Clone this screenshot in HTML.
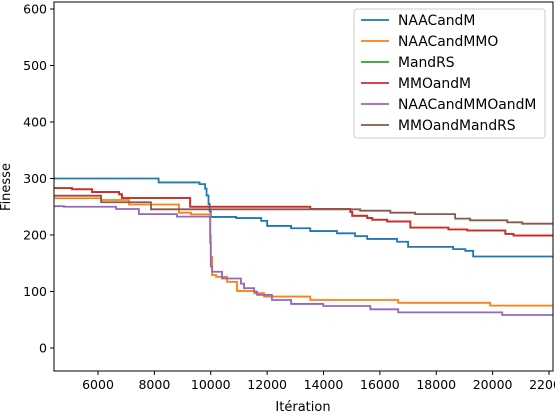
<!DOCTYPE html>
<html><head><meta charset="utf-8"><style>
body{margin:0;background:#fff;}
svg text{font-family:"DejaVu Sans","Liberation Sans",sans-serif;fill:#000;}
</style></head><body>
<svg id="chart" width="555" height="412" xmlns="http://www.w3.org/2000/svg">
<g id="grid"></g>
<g id="series"></g>
<rect x="54" y="2" width="499" height="369" fill="none" stroke="#000" stroke-width="1"/>
<g id="axes"></g>
<text x="303" y="411" font-size="13" text-anchor="middle">Itération</text>
<text transform="translate(10,187) rotate(-90)" font-size="13" text-anchor="middle">Finesse</text>
<g id="legend"></g>
</svg>
<script>
const xTicks=[6000,8000,10000,12000,14000,16000,18000,20000,22000];
const yTicks=[0,100,200,300,400,500,600];
const seriesNames=["NAACandM","NAACandMMO","MandRS","MMOandM","NAACandMMOandM","MMOandMandRS"];
const seriesColors=["#1f77b4","#ff7f0e","#2ca02c","#d62728","#9467bd","#8c564b"];
// step starts (iteration) and values
const blueX=[4438,8150,9600,9800,9850,9920,9960,10000,10900,11790,12000,12850,13530,14480,15120,15550,16610,17000,18600,19030,19310];
const blueY=[300,293,290,282,270,255,242,232,230,225,216,212,207,203,198,193,188,179,175,172,162];
const orangeX=[4438,6110,7100,8870,9300,9980,10000,10050,10190,10580,10930,11540,11890,13530,16650,19910];
const orangeY=[265,262,254,239.5,236.5,200,161,129,126,117,101,97,91,85,80,75];
const greenX=[4438,5080,5790,6750,6850,9270,13530,14950,15020,15550,15730,16260,17080,18430,19100,20450,20740];
const greenY=[283,281,276,272,265.5,250,246,241,234,230,227,224,213,210,208,202,199];
const redX=[4438,5080,5790,6750,6850,9270,13530,14950,15020,15550,15730,16260,17080,18430,19100,20450,20740];
const redY=[283,281,276,272,265.5,250,246,241,234,230,227,224,213,210,208,202,199];
const purpleX=[4438,4790,6640,7450,8800,9980,10000,10050,10400,11070,11180,11540,11640,12170,12850,13990,15660,16650,20340];
const purpleY=[251,250,246,237,232.5,186,144,135,123,114,106,100,94,85,78,74.3,68.5,63,58.4];
const brownX=[4438,6110,7880,15300,16370,17250,18670,19200,20520,21050];
const brownY=[269.6,258,245.5,243,239.5,237,229,226,222.5,220];
const allX=[blueX,orangeX,greenX,redX,purpleX,brownX];
const allY=[blueY,orangeY,greenY,redY,purpleY,brownY];
const X0=4438,X1=22142,PL=54,PR=553,PT=2,PB=371;
const sx=v=>PL+(v-X0)/(X1-X0)*(PR-PL);
const sy=v=>348-v*0.565;
const NS="http://www.w3.org/2000/svg";
function mk(t,a){const e=document.createElementNS(NS,t);for(const k in a)e.setAttribute(k,a[k]);return e;}
const axes=document.getElementById('axes');
xTicks.forEach(t=>{const x=sx(t);
 const l=mk('line',{x1:x,x2:x,y1:PB,y2:PB+4,stroke:'#000'});
 
 
 axes.appendChild(l);
 const tx=mk('text',{x:x,y:PB+18,'font-size':12.5,'text-anchor':'middle'});tx.textContent=t;
 
 
 axes.appendChild(tx);});
yTicks.forEach(t=>{const y=sy(t);
 const l=mk('line',{x1:PL-4,x2:PL,y1:y,y2:y,stroke:'#000'});
 
 
 axes.appendChild(l);
 const tx=mk('text',{x:PL-7,y:y+4.5,'font-size':12.5,'text-anchor':'end'});tx.textContent=t;
 
 
 axes.appendChild(tx);});
const sg=document.getElementById('series');
const order=[2,0,1,3,4,5];
order.forEach(i=>{const xs=allX[i],ys=allY[i];
 let d='M'+sx(xs[0])+','+sy(ys[0]);
 for(let k=1;k<xs.length;k++){d+=' H'+sx(xs[k])+' V'+sy(ys[k]);}
 d+=' H'+sx(X1);
 const p=mk('path',{d:d,fill:'none',stroke:seriesColors[i],'stroke-width':1.8});
 
 
 sg.appendChild(p);});
const lg=document.getElementById('legend');
const box=mk('rect',{x:354,y:9,width:191,height:129,rx:3,fill:'#fff','fill-opacity':0.8,stroke:'#ccc'});


lg.appendChild(box);
seriesNames.forEach((n,i)=>{const y=20+i*21;
 const g=mk('g',{});
 
 
 g.appendChild(mk('line',{x1:361,x2:389,y1:y,y2:y,stroke:seriesColors[i],'stroke-width':1.8}));
 const t=mk('text',{x:398,y:y+5,'font-size':13.9});t.textContent=n;g.appendChild(t);
 lg.appendChild(g);});
</script>
</body></html>
